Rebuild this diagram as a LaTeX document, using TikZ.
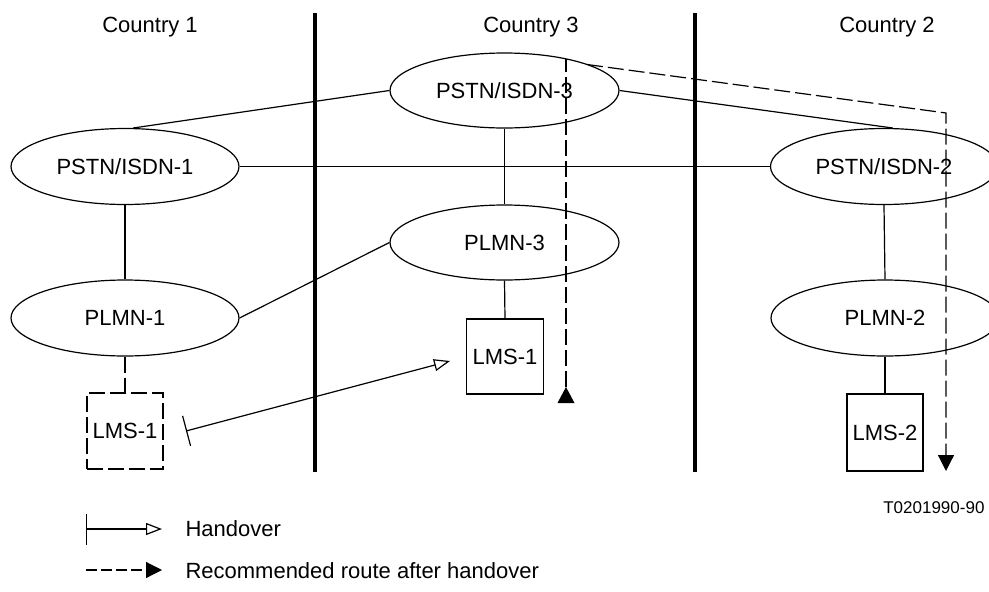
\documentclass[tikz,border=0pt]{standalone}
\usepackage{fontspec}
\setmainfont{Liberation Sans}
\usetikzlibrary{shapes.geometric,arrows.meta}
\begin{document}
\begin{tikzpicture}[x=1pt,y=-1pt,
  every node/.style={font=\fontsize{22}{26}\selectfont},
  thin line/.style={line width=1.2pt},
  border line/.style={line width=4pt},
  netell/.style={draw,ellipse,thin line,inner sep=0pt,minimum width=228pt,minimum height=76pt},
  lmsbox/.style={draw,thin line,inner sep=0pt,minimum width=76pt,minimum height=76pt},
  routedash/.style={thin line,dash pattern=on 16pt off 5pt},
  handover/.style={thin line,{Bar[width=31pt]}-{Triangle[open,length=16pt,width=12pt]}},
  routetip/.style={-{Triangle[length=16pt,width=16pt]}}
]
\useasboundingbox (0,0) rectangle (989,592);

% country labels
\node (c1) at (150,27) {Country 1};
\node (c3) at (531,27) {Country 3};
\node (c2) at (887,27) {Country 2};

% borders
\coordinate (b1t) at (315,13);
\coordinate (b1b) at (315,472);
\coordinate (b2t) at (695,13);
\coordinate (b2b) at (695,472);
\draw[border line] (b1t) -- (b1b);
\draw[border line] (b2t) -- (b2b);

% networks
\node[netell] (ps1) at (125,166.5) {PSTN/ISDN-1};
\node[netell,minimum height=75pt,minimum width=229pt] (ps3) at (504.5,90.5) {PSTN/ISDN-3};
\node[netell,minimum width=227pt] (ps2) at (884,166.5) {PSTN/ISDN-2};
\node[netell] (pl1) at (125,318) {PLMN-1};
\node[netell,minimum height=75pt,minimum width=229pt] (pl3) at (504.5,242.5) {PLMN-3};
\node[netell] (pl2) at (885,318) {PLMN-2};

% mobile stations
\node[lmsbox,dash pattern=on 16pt off 5pt] (lmsA) at (125,431) {LMS-1};
\node[lmsbox,minimum width=77pt,minimum height=75pt] (lmsB) at (505,356.5) {LMS-1};
\node[lmsbox,minimum height=77pt] (lmsC) at (885,432.5) {LMS-2};

% connections
\draw[thin line] (ps1.78) -- (ps3.west);
\draw[thin line] (ps3.east) -- (ps2.77);
\draw[thin line] (ps1.east) -- (ps2.west);
\draw[thin line] (ps3.south) -- (pl3.north);
\draw[thin line] (ps1.south) -- (pl1.north);
\draw[thin line] (pl1.east) -- (pl3.west);
\draw[thin line] (pl3.south) -- (lmsB.north);
\draw[thin line] (ps2.south) -- (pl2.north);
\draw[thin line] (pl2.south) -- (lmsC.north);
\draw[routedash] (pl1.south) -- (lmsA.north);

% handover
\coordinate (hs) at (186,431);
\coordinate (he) at (450,361);
\draw[handover] (hs) -- (he);

% recommended route
\coordinate (r0) at (566,387);
\coordinate (r1) at (566,59);
\coordinate (r2) at (587,64.5);
\coordinate (r3) at (946,113);
\coordinate (r4) at (946,471);
\fill (r0) -- (557.5,403) -- (574.5,403) -- cycle;
\draw[routedash] (r0) -- (r1);
\draw[routedash,routetip] (r2) -- (r3) -- (r4);

% figure number
\node[font=\fontsize{17}{20}\selectfont,anchor=east] (fig) at (988,508) {T0201990-90};

% legend
\coordinate (l1a) at (86,529);
\coordinate (l1b) at (162,529);
\draw[handover] (l1a) -- (l1b);
\node[anchor=west] (lt1) at (182,529) {Handover};
\coordinate (l2a) at (86,570);
\coordinate (l2b) at (162,570);
\draw[thin line,dash pattern=on 11pt off 4pt,routetip] (l2a) -- (l2b);
\node[anchor=west] (lt2) at (182,571) {Recommended route after handover};
\end{tikzpicture}
\end{document}
